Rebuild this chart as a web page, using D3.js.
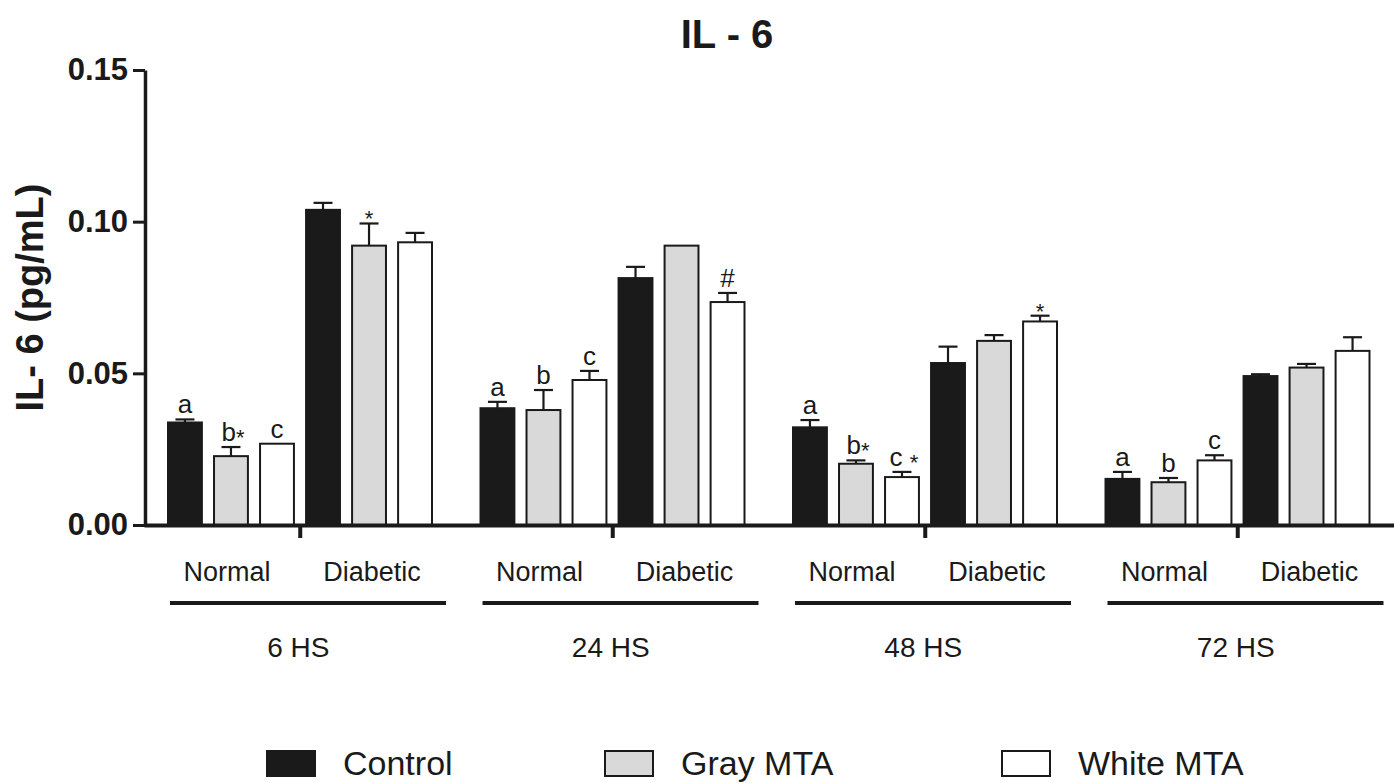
<!doctype html>
<html lang="en">
<head>
<meta charset="utf-8">
<title>IL - 6</title>
<script src="https://d3js.org/d3.v7.min.js"></script>
<style>
  body { margin: 0; background: #fff; }
  svg { display: block; font-family: "Liberation Sans", Arial, sans-serif; }
</style>
</head>
<body>
<svg id="chart" width="1394" height="783"></svg>
<script>
var timepoints = ["6 HS", "24 HS", "48 HS", "72 HS"];
var conditions = ["Normal", "Diabetic"];
var series = ["Control", "Gray MTA", "White MTA"];
var yTicks = [0, 0.05, 0.10, 0.15];

// order of values: 6 HS Normal, 6 HS Diabetic, 24 HS Normal, 24 HS Diabetic, 48 HS ..., 72 HS ...
var controlMean = [0.0338, 0.1039, 0.0385, 0.0814, 0.0322, 0.0534, 0.0152, 0.0491];
var controlErr  = [0.0010, 0.0023, 0.0021, 0.0037, 0.0024, 0.0054, 0.0023, 0.0006];
var grayMean    = [0.0227, 0.0921, 0.0379, 0.0921, 0.0202, 0.0607, 0.0141, 0.0519];
var grayErr     = [0.0030, 0.0073, 0.0066, 0.0000, 0.0011, 0.0019, 0.0014, 0.0012];
var whiteMean   = [0.0268, 0.0932, 0.0478, 0.0735, 0.0158, 0.0671, 0.0213, 0.0574];
var whiteErr    = [0.0000, 0.0031, 0.0030, 0.0030, 0.0017, 0.0019, 0.0017, 0.0045];

// significance marks over each bar
var controlMarks = ["a", "", "a", "", "a", "", "a", ""];
var grayMarks    = ["b*", "*", "b", "", "b*", "", "b", ""];
var whiteMarks   = ["c", "", "c", "#", "c *", "*", "c", ""];

var means = [controlMean, grayMean, whiteMean];
var errs = [controlErr, grayErr, whiteErr];
var marks = [controlMarks, grayMarks, whiteMarks];
var fills = ["#1a1a1a", "#d9d9d9", "#ffffff"];
var legendX = [266, 604, 1001];

var svg = d3.select("#chart");
var ink = "#1a1a1a";

var y = d3.scaleLinear().domain([0, 0.15]).range([525, 70]);
var xTime = d3.scaleBand().domain(timepoints).range([144, 1394]);

var slots = [];
conditions.forEach(function(c) { series.forEach(function(s) { slots.push(c + "|" + s); }); });
var xSlot = d3.scaleBand().domain(slots).range([23, 289]).paddingInner(0.22);

var bars = [];
timepoints.forEach(function(t, ti) {
  conditions.forEach(function(c, ci) {
    var k = ti * conditions.length + ci;
    series.forEach(function(s, si) {
      bars.push({
        t: t, c: c, s: si,
        x: xTime(t) + xSlot(c + "|" + s),
        mean: means[si][k], err: errs[si][k], mark: marks[si][k]
      });
    });
  });
});

var bw = xSlot.bandwidth();

// bars
svg.append("g").selectAll("rect").data(bars).enter().append("rect")
  .attr("x", function(d) { return d.x + 1; })
  .attr("y", function(d) { return y(d.mean); })
  .attr("width", bw - 2)
  .attr("height", function(d) { return y(0) - y(d.mean); })
  .attr("fill", function(d) { return fills[d.s]; })
  .attr("stroke", ink)
  .attr("stroke-width", 2);

// error bars (upper only)
var eb = svg.append("g").attr("stroke", ink).attr("stroke-width", 2.2)
  .selectAll("g").data(bars.filter(function(d) { return d.err > 0; })).enter().append("g");
eb.append("line")
  .attr("x1", function(d) { return d.x + bw / 2; })
  .attr("x2", function(d) { return d.x + bw / 2; })
  .attr("y1", function(d) { return y(d.mean); })
  .attr("y2", function(d) { return y(d.mean + d.err); });
eb.append("line")
  .attr("x1", function(d) { return d.x + bw / 2 - 9.5; })
  .attr("x2", function(d) { return d.x + bw / 2 + 9.5; })
  .attr("y1", function(d) { return y(d.mean + d.err); })
  .attr("y2", function(d) { return y(d.mean + d.err); });

// significance letters
var mk = svg.append("g").attr("font-size", 26).attr("fill", ink).attr("text-anchor", "middle")
  .selectAll("text").data(bars.filter(function(d) { return d.mark !== ""; })).enter().append("text")
  .attr("x", function(d) { return d.x + bw / 2 + (d.mark.length > 1 ? 2 : 0); })
  .attr("y", function(d) { return y(d.mean + d.err) - 6; });
mk.each(function(d) {
  var el = d3.select(this);
  var star = d.mark.indexOf("*");
  if (star < 0) { el.text(d.mark); return; }
  var head = d.mark.slice(0, star);
  if (head.length) el.append("tspan").text(head);
  el.append("tspan").attr("font-size", 22).attr("dy", head.length ? 4 : 9).text("*");
});

// y axis
var yAxis = svg.append("g").attr("transform", "translate(145,0)")
  .call(d3.axisLeft(y).tickValues(yTicks).tickFormat(d3.format(".2f")).tickSize(12).tickSizeOuter(0));
yAxis.select(".domain").attr("stroke", ink).attr("stroke-width", 3.5);
yAxis.selectAll(".tick line").attr("stroke", ink).attr("stroke-width", 3);
yAxis.selectAll(".tick text").attr("x", -17).attr("fill", ink)
  .attr("font-size", 31).attr("font-weight", "bold").attr("font-family", "Liberation Sans, Arial, sans-serif");

// x axis with separators between Normal and Diabetic
var xAxis = svg.append("g").attr("transform", "translate(0," + y(0) + ")")
  .call(d3.axisBottom(xTime).tickFormat("").tickSize(13).tickSizeOuter(0));
xAxis.select(".domain").attr("stroke", ink).attr("stroke-width", 4);
xAxis.selectAll(".tick line").attr("stroke", ink).attr("stroke-width", 4);

// condition labels, underline, timepoint labels
var tg = svg.append("g").selectAll("g").data(timepoints).enter().append("g")
  .attr("transform", function(t) { return "translate(" + xTime(t) + ",0)"; });
conditions.forEach(function(c) {
  var first = xSlot(c + "|" + series[0]);
  var last = xSlot(c + "|" + series[series.length - 1]) + bw;
  tg.append("text")
    .attr("x", (first + last) / 2 - (c === "Normal" ? 4 : -3))
    .attr("y", 581)
    .attr("text-anchor", "middle")
    .attr("font-size", 27)
    .attr("fill", ink)
    .text(c);
});
tg.append("line")
  .attr("x1", 26).attr("x2", 302)
  .attr("y1", 603).attr("y2", 603)
  .attr("stroke", ink).attr("stroke-width", 4);
tg.append("text")
  .attr("x", xTime.bandwidth() / 2 - 2)
  .attr("y", 657)
  .attr("text-anchor", "middle")
  .attr("font-size", 28)
  .attr("fill", ink)
  .text(function(t) { return t; });

// title
svg.append("text")
  .attr("x", 727).attr("y", 48)
  .attr("text-anchor", "middle")
  .attr("font-size", 40).attr("font-weight", "bold").attr("fill", ink)
  .text("IL - 6");

// y label
svg.append("text")
  .attr("transform", "translate(43," + ((y(0) + y(0.15)) / 2) + ") rotate(-90)")
  .attr("text-anchor", "middle")
  .attr("font-size", 38).attr("font-weight", "bold").attr("fill", ink)
  .text("IL- 6 (pg/mL)");

// legend
var lg = svg.append("g").selectAll("g").data(series).enter().append("g")
  .attr("transform", function(s, i) { return "translate(" + legendX[i] + ",0)"; });
lg.append("rect")
  .attr("x", 1).attr("y", 751)
  .attr("width", 48).attr("height", 25)
  .attr("fill", function(s, i) { return fills[i]; })
  .attr("stroke", ink).attr("stroke-width", 2);
lg.append("text")
  .attr("x", 77).attr("y", 775)
  .attr("font-size", 34).attr("fill", ink)
  .text(function(s) { return s; });
</script>
</body>
</html>
